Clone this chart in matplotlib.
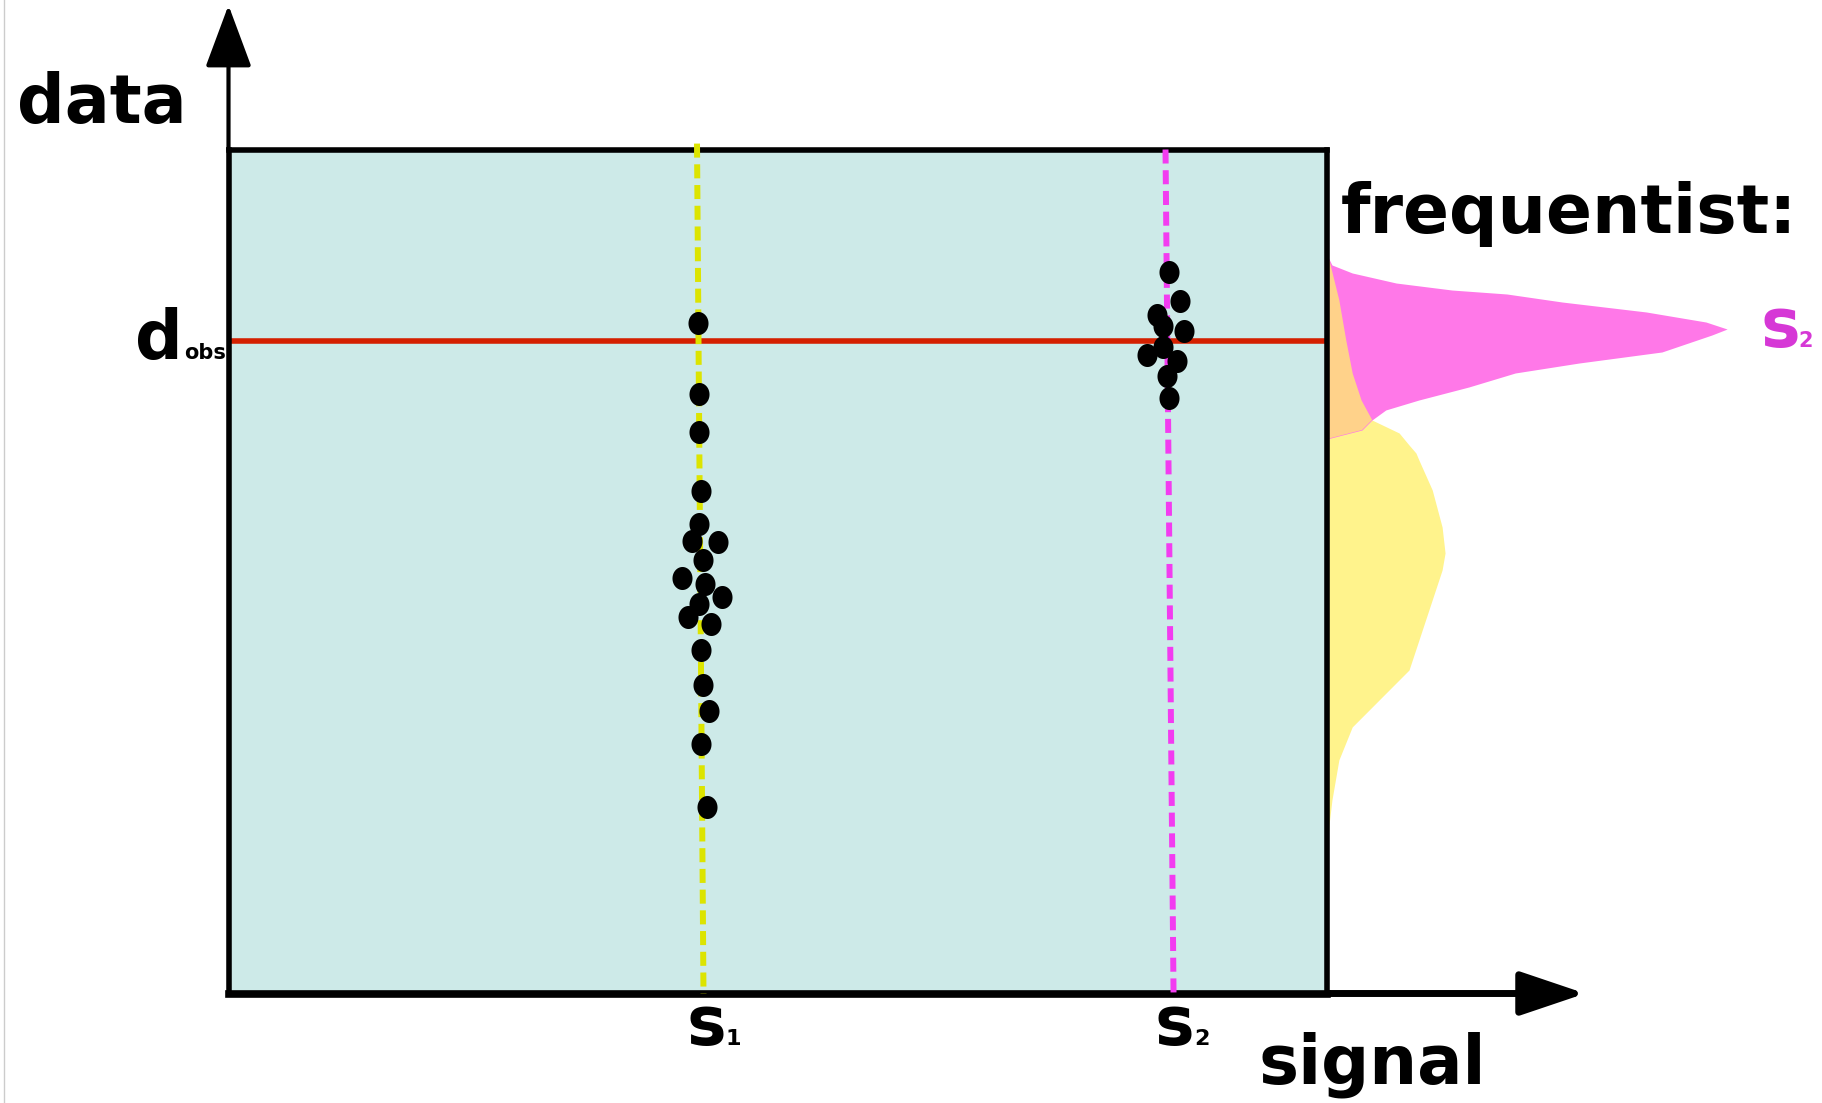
import numpy as np
import matplotlib
matplotlib.use('Agg')
import matplotlib.pyplot as plt
from matplotlib.path import Path
from matplotlib.lines import Line2D

# --- data (signal / data units of the sketch, box spans 0..100 on both axes) ---
s1_signal = [42.71, 42.86, 42.86, 43.01, 42.86, 42.17, 44.59, 43.22, 41.31, 43.38,
             44.90, 42.86, 41.80, 43.90, 43.01, 43.17, 43.74, 43.01, 43.53]
s1_data = [79.45, 70.99, 66.55, 59.57, 55.68, 53.65, 53.44, 51.41, 49.21, 48.57,
           46.97, 46.11, 44.55, 43.83, 40.75, 36.50, 33.42, 29.61, 22.12]
s2_signal = [85.62, 86.62, 84.50, 85.10, 86.98, 85.10, 83.64, 86.32, 85.41, 85.62]
s2_data = [85.45, 82.09, 80.39, 79.09, 78.53, 76.56, 75.65, 74.98, 73.16, 70.52]

# true signal values (dashed lines are drawn slightly slanted, top -> bottom)
s1_line = [42.65, 43.24]
s2_line = [85.30, 86.03]
d_obs = 77.3

# sampling distributions of the data (frequentist view), right margin
s2_dist_y = [87.50, 86.32, 85.37, 84.18, 83.35, 82.88, 81.93, 80.75, 79.56, 78.73,
             78.02, 76.01, 74.70, 73.52, 71.86, 70.32, 69.14, 67.95, 66.77, 65.70]
s2_dist = [0, 0.10, 0.51, 1.40, 2.53, 3.64, 4.76, 6.46, 7.67, 8.10,
           7.79, 6.78, 5.10, 3.81, 2.87, 1.86, 1.19, 0.91, 0.71, 0]
s1_dist_y = [87.50, 86.91, 82.17, 77.43, 73.52, 70.32, 67.95, 66.41, 64.99, 64.04,
             63.21, 59.66, 55.27, 52.19, 50.18, 38.33, 31.58, 27.67, 22.93, 19.97, 15.82]
s1_dist = [0, 0.04, 0.24, 0.38, 0.51, 0.69, 0.91, 1.46, 1.66, 1.80,
           1.86, 2.13, 2.33, 2.39, 2.33, 1.66, 0.51, 0.24, 0.10, 0.04, 0]

W, H = 1822, 1103


def fx(px):
    return px / W


def fy(py):
    return 1 - py / H


bg = '#cdeae8'
yellow_line = '#dce400'
magenta_line = '#f23cf0'
pink = '#ff78e8'
yellow_fill = '#fff38c'
orange_fill = '#ffd28a'
red = '#d42000'

fig = plt.figure(figsize=(W / 100, H / 100), dpi=100)
fig.patch.set_facecolor('white')

box_l, box_r, box_t, box_b = 228.5, 1327.0, 149.5, 993.5
ax = fig.add_axes([fx(box_l), fy(box_b), (box_r - box_l) / W, (box_b - box_t) / H])
ax.set_facecolor(bg)
ax.set_xlim(0, 100)
ax.set_ylim(0, 100)
ax.set_xticks([])
ax.set_yticks([])
for side in ['left', 'top', 'right']:
    ax.spines[side].set_linewidth(4)
ax.spines['bottom'].set_linewidth(5.5)
ax.set_zorder(2)

# observed data
ax.axhline(d_obs, color=red, lw=4, zorder=2)

# true signal lines
ax.plot(s1_line, [100.7, 0], color=yellow_line, lw=4.3, dashes=(2.35, 1.12),
        clip_on=False, zorder=3)
ax.plot(s2_line, [100.0, 0], color=magenta_line, lw=4.3, dashes=(2.35, 1.12),
        clip_on=False, zorder=3)

# simulated experiments
t = np.linspace(0, 2 * np.pi, 60)
ell = Path(np.column_stack([0.87 * np.cos(t), np.sin(t)]), closed=True)
ax.scatter(s1_signal, s1_data, s=275, marker=ell, color='black', linewidths=0, zorder=4)
ax.scatter(s2_signal, s2_data, s=275, marker=ell, color='black', linewidths=0, zorder=4)

# axis arrows
ax.annotate('', xy=(0, 1.171), xytext=(0, 1.0), xycoords='axes fraction',
            textcoords='axes fraction', annotation_clip=False,
            arrowprops=dict(arrowstyle='-|>,head_length=3.9,head_width=1.45',
                            mutation_scale=10, lw=3, color='black',
                            shrinkA=0, shrinkB=0))
ax.annotate('', xy=(1.235, 0), xytext=(1.0, 0), xycoords='axes fraction',
            textcoords='axes fraction', annotation_clip=False,
            arrowprops=dict(arrowstyle='-|>,head_length=4.0,head_width=1.35',
                            mutation_scale=10, lw=5, color='black',
                            shrinkA=0, shrinkB=0))

# marginal distributions
axm = fig.add_axes([fx(box_r), fy(box_b), (W - box_r) / W, (box_b - box_t) / H])
axm.set_xlim(0, 10.02)
axm.set_ylim(0, 100)
axm.axis('off')
axm.set_zorder(1)
axm.fill_betweenx(s1_dist_y, 0, s1_dist, color=yellow_fill, lw=0)
pink_coll = axm.fill_betweenx(s2_dist_y, 0, s2_dist, color=pink, lw=0)
overlap = axm.fill_betweenx(s1_dist_y, 0, s1_dist, color=orange_fill, lw=0)
overlap.set_clip_path(pink_coll.get_paths()[0], axm.transData)

# labels
bold = dict(fontweight='bold', family='DejaVu Sans')
fig.text(fx(17), fy(123), 'data', fontsize=48, ha='left', va='baseline', **bold)
fig.text(fx(1341), fy(233), 'frequentist:', fontsize=49, ha='left', va='baseline', **bold)
fig.text(fx(1259), fy(1084), 'signal', fontsize=48.5, ha='left', va='baseline', **bold)
fig.text(fx(135), fy(359), 'd', fontsize=48, ha='left', va='baseline', **bold)
fig.text(fx(184), fy(359), 'obs', fontsize=15, ha='left', va='baseline', **bold)
fig.text(fx(686), fy(1045), 's', fontsize=48, ha='left', va='baseline', **bold)
fig.text(fx(726), fy(1045), '1', fontsize=16, ha='left', va='baseline', **bold)
fig.text(fx(1154), fy(1045), 's', fontsize=48, ha='left', va='baseline', **bold)
fig.text(fx(1194), fy(1045), '2', fontsize=16, ha='left', va='baseline', **bold)
fig.text(fx(1760), fy(347), 's', fontsize=48, ha='left', va='baseline', color='#d638d6', **bold)
fig.text(fx(1798), fy(347), '2', fontsize=15, ha='left', va='baseline', color='#d638d6', **bold)

# faint page border on the left
fig.add_artist(Line2D([fx(4), fx(4)], [0, 1], color='#cccccc', lw=1))

fig.savefig('out.png', dpi=100, facecolor='white')
